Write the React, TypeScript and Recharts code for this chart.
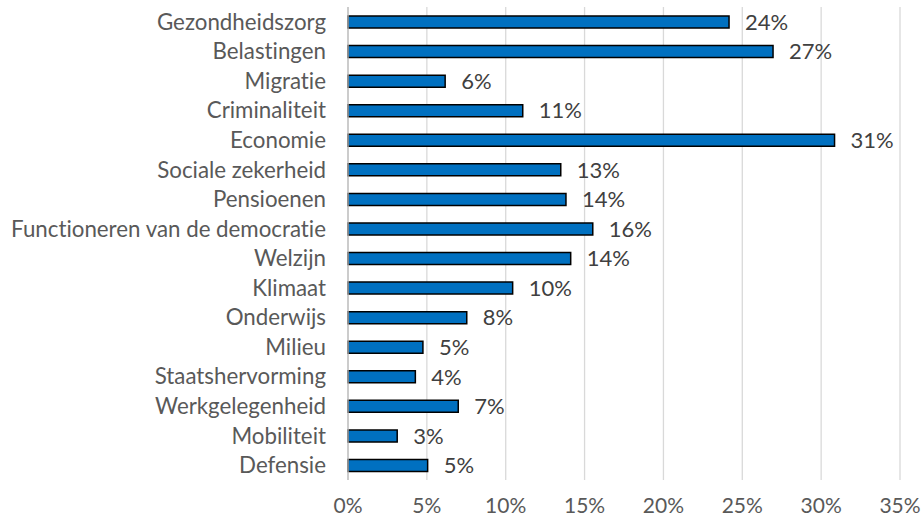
import React from "react";
import { BarChart, Bar, XAxis, YAxis, CartesianGrid, LabelList } from "recharts";

const categories = [
  "Gezondheidszorg",
  "Belastingen",
  "Migratie",
  "Criminaliteit",
  "Economie",
  "Sociale zekerheid",
  "Pensioenen",
  "Functioneren van de democratie",
  "Welzijn",
  "Klimaat",
  "Onderwijs",
  "Milieu",
  "Staatshervorming",
  "Werkgelegenheid",
  "Mobiliteit",
  "Defensie",
];
const values = [24.16, 26.95, 6.16, 11.08, 30.85, 13.49, 13.82, 15.52, 14.12, 10.44, 7.53, 4.75, 4.27, 6.99, 3.12, 5.05];
const xTicks = [0, 5, 10, 15, 20, 25, 30, 35];

const data = categories.map((c, i) => ({ name: c, value: values[i] }));

const FONT = "Lato, sans-serif";

export default function App() {
  return (
    <div
      style={{
        position: "absolute",
        left: 0,
        top: 0,
        width: 922,
        height: 520,
        background: "#fff",
        fontVariantLigatures: "none",
      }}
    >
      <BarChart
        width={922}
        height={520}
        data={data}
        layout="vertical"
        margin={{ top: 7, right: 22, bottom: 10, left: 0 }}
        barSize={12}
      >
        <CartesianGrid horizontal={false} stroke="#d9d9d9" strokeWidth={1.3} />
        <XAxis
          type="number"
          domain={[0, 35]}
          ticks={xTicks}
          tickFormatter={(v) => `${v}%`}
          axisLine={false}
          tickLine={false}
          tickSize={0}
          tickMargin={18}
          height={30}
          interval={0}
          tick={{ fill: "#595959", fontSize: 21, fontFamily: FONT }}
        />
        <YAxis
          type="category"
          dataKey="name"
          width={348}
          axisLine={{ stroke: "#bfbfbf", strokeWidth: 1.3 }}
          tickLine={false}
          tickSize={0}
          tickMargin={22}
          interval={0}
          tick={{ fill: "#595959", fontSize: 22.3, fontFamily: FONT }}
        />
        <Bar dataKey="value" fill="#0070C0" stroke="#000" strokeWidth={1.5} isAnimationActive={false}>
          <LabelList
            dataKey="value"
            position="right"
            offset={16}
            formatter={(v: number) => `${Math.round(v)}%`}
            style={{ fill: "#404040", fontSize: 22, fontFamily: FONT }}
          />
        </Bar>
      </BarChart>
    </div>
  );
}
